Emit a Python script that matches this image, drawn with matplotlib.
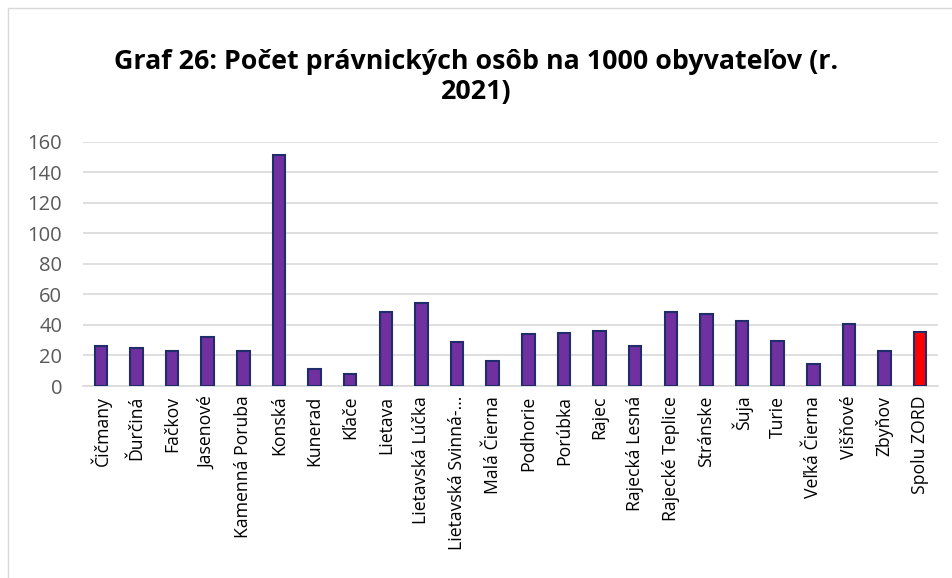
import numpy as np
import matplotlib.pyplot as plt
from matplotlib.patches import Rectangle

plt.rcParams['font.family'] = ['Open Sans', 'DejaVu Sans']

obce = ["Čičmany", "Ďurčiná", "Fačkov", "Jasenové", "Kamenná Poruba", "Konská",
        "Kunerad", "Kľače", "Lietava", "Lietavská Lúčka", "Lietavská Svinná-…",
        "Malá Čierna", "Podhorie", "Porúbka", "Rajec", "Rajecká Lesná",
        "Rajecké Teplice", "Stránske", "Šuja", "Turie", "Veľká Čierna",
        "Višňové", "Zbyňov", "Spolu ZORD"]
hodnoty = [26.2, 24.7, 22.9, 31.9, 22.7, 151.3, 11.3, 7.9, 48.7, 54.6, 28.8,
           16.4, 33.8, 34.5, 36.2, 26.2, 48.7, 47.1, 42.8, 29.7, 14.4,
           40.8, 22.9, 35.6]
yticks = [0, 20, 40, 60, 80, 100, 120, 140, 160]

W, H = 953, 578
fig = plt.figure(figsize=(W / 100, H / 100), dpi=100)
ax = fig.add_axes([83 / W, 1 - 386 / H, (938 - 83) / W, (386 - 141.7) / H])

# ramcek grafu
fig.patches.append(Rectangle((8 / W, -0.1), 1.2, 1 - 8 / H + 0.1,
                             transform=fig.transFigure, fill=False,
                             edgecolor='#D9D9D9', linewidth=1))

x = np.arange(len(obce))
farby = ['#7030A0'] * (len(obce) - 1) + ['#FF0000']
ax.bar(x, hodnoty, width=0.35, color=farby, edgecolor='#1F2E6B', linewidth=1.5, zorder=3)

ax.set_xlim(-0.5, len(obce) - 0.5)
ax.set_ylim(0, 160)
ax.set_yticks(yticks)
ax.set_xticks(x)
ax.set_xticklabels(obce, rotation=90, fontsize=12.7, color='#000000')
ax.tick_params(axis='y', labelsize=14.5, labelcolor='#595959', length=0, pad=15)
ax.tick_params(axis='x', length=0, pad=7)
ax.grid(axis='y', color='#D9D9D9', linewidth=1.2, zorder=0)
for s in ['top', 'right', 'left']:
    ax.spines[s].set_visible(False)
ax.spines['bottom'].set_color('#D9D9D9')
ax.spines['bottom'].set_linewidth(1.2)

fig.text(0.5, 1 - 77 / H, "Graf 26: Počet právnických osôb na 1000 obyvateľov (r.\n2021)",
         ha='center', va='center', fontsize=19.3, fontweight='bold', linespacing=1.2)

fig.savefig('out.png', dpi=100)
